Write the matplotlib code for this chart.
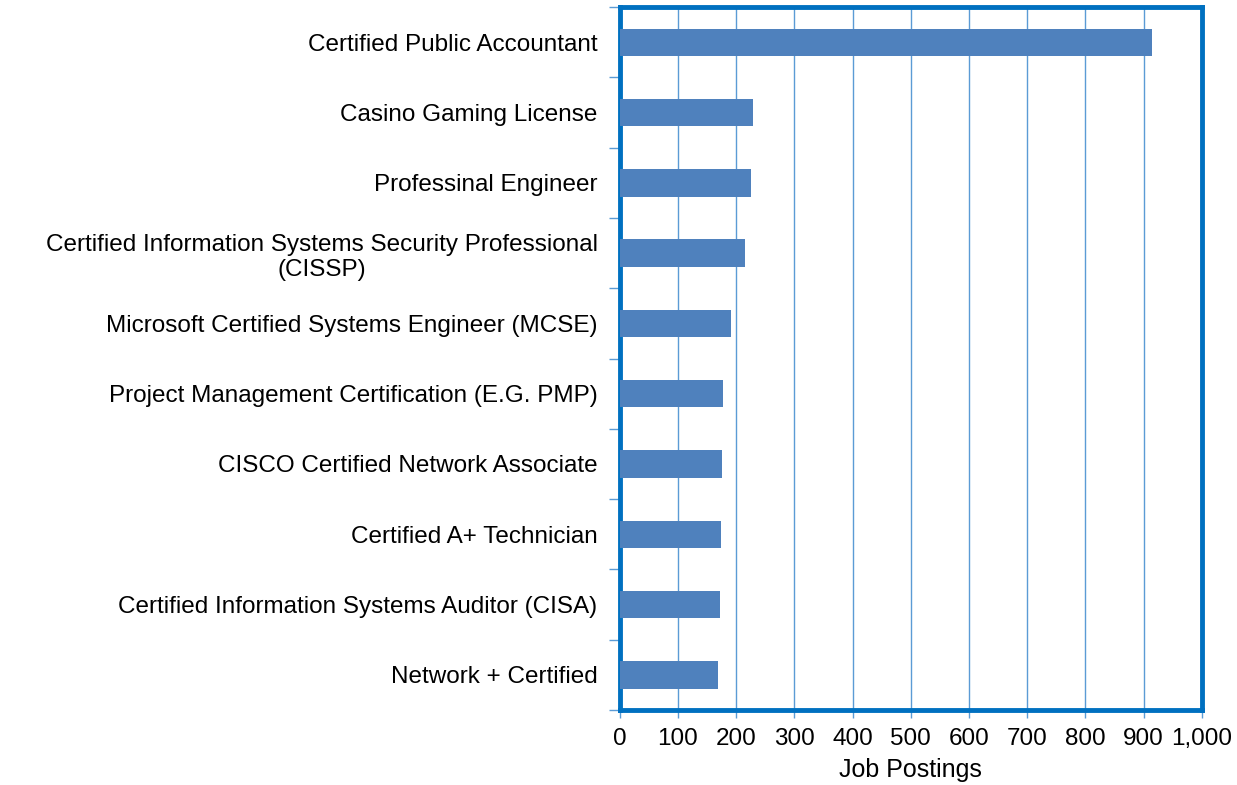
import numpy as np
import matplotlib.pyplot as plt

plt.rcParams['font.family'] = ['Liberation Sans', 'DejaVu Sans']

# dane z wykresu (od gory do dolu)
certs = [
    "Certified Public Accountant",
    "Casino Gaming License",
    "Professinal Engineer",
    "Certified Information Systems Security Professional\n(CISSP)",
    "Microsoft Certified Systems Engineer (MCSE)",
    "Project Management Certification (E.G. PMP)",
    "CISCO Certified Network Associate",
    "Certified A+ Technician",
    "Certified Information Systems Auditor (CISA)",
    "Network + Certified",
]
postings = [914, 229, 225, 215, 192, 178, 175, 174, 173, 169]
xticks = [0, 100, 200, 300, 400, 500, 600, 700, 800, 900, 1000]

fig = plt.figure(figsize=(12.37, 7.85), dpi=100)
ax = fig.add_axes([0.501, 0.0955, 0.4705, 0.8955])

y = np.arange(len(certs))
ax.barh(y, postings, height=0.39, color='#4F81BD', zorder=3)

ax.set_xlim(0, 1000)
ax.set_ylim(len(certs) - 0.5, -0.5)

ax.set_xticks(xticks)
ax.set_xticklabels([f'{v:,}' for v in xticks], fontsize=17.5)
ax.set_yticks(y)
ax.set_yticklabels(certs, fontsize=17.5, multialignment='center', linespacing=1.18)
ax.tick_params(axis='y', length=0, pad=16)
ax.set_yticks(np.arange(-0.5, len(certs)), minor=True)
ax.tick_params(axis='y', which='minor', length=8, color='#5B9BD5', width=1)
ax.tick_params(axis='x', length=6, color='#5B9BD5', width=1, pad=7)

ax.grid(axis='x', color='#5B9BD5', linewidth=1, zorder=0)

for s in ax.spines.values():
    s.set_color('#0070C0')
    s.set_linewidth(3.5)

ax.set_xlabel('Job Postings', fontsize=18, labelpad=6)

fig.savefig('out.png', dpi=100)
